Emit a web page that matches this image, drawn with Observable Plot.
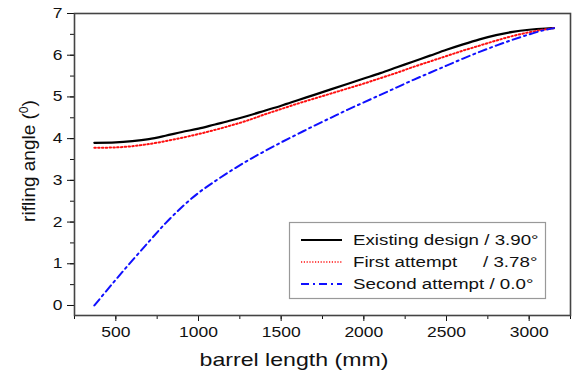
<!DOCTYPE html>
<html>
<head>
<meta charset="utf-8">
<script src="https://cdn.jsdelivr.net/npm/d3@7"></script>
<script src="https://cdn.jsdelivr.net/npm/@observablehq/plot@0.6"></script>
<style>
  body { margin: 0; background: #fff; }
</style>
</head>
<body>
<script>
// Barrel position along the bore (mm)
const barrelLength = [370, 500, 600, 700, 800, 900, 1000, 1100, 1200, 1300, 1400, 1500,
  1600, 1700, 1800, 1900, 2000, 2100, 2200, 2300, 2400, 2500, 2600, 2700, 2800, 2900,
  3000, 3100, 3150];

// Rifling angle (degrees) for each design
const existingDesign = [3.90, 3.91, 3.94, 3.99, 4.07, 4.16, 4.24, 4.34, 4.44, 4.55, 4.67, 4.79,
  4.92, 5.05, 5.18, 5.31, 5.44, 5.57, 5.71, 5.85, 5.99, 6.13, 6.26, 6.38, 6.48, 6.56,
  6.61, 6.64, 6.65];
const firstAttempt = [3.78, 3.79, 3.82, 3.87, 3.94, 4.02, 4.11, 4.21, 4.32, 4.44, 4.58, 4.71,
  4.84, 4.96, 5.08, 5.20, 5.32, 5.45, 5.58, 5.72, 5.85, 5.98, 6.11, 6.23, 6.35, 6.46,
  6.55, 6.62, 6.65];
const secondAttempt = [0.0, 0.62, 1.08, 1.53, 1.97, 2.36, 2.70, 2.98, 3.24, 3.48, 3.70, 3.91,
  4.11, 4.31, 4.50, 4.69, 4.87, 5.05, 5.23, 5.41, 5.58, 5.75, 5.92, 6.08, 6.23, 6.37,
  6.50, 6.61, 6.65];

const seriesNames = ["Existing design", "First attempt", "Second attempt"];
const seriesDecimals = [2, 2, 1];

// Axis ticks
const xMajorTicks = [500, 1000, 1500, 2000, 2500, 3000];
const xMinorTicks = [250, 500, 750, 1000, 1250, 1500, 1750, 2000, 2250, 2500, 2750, 3000, 3250];
const yMajorTicks = [0, 1, 2, 3, 4, 5, 6, 7];
const yMinorTicks = [0, 0.5, 1, 1.5, 2, 2.5, 3, 3.5, 4, 4.5, 5, 5.5, 6, 6.5, 7];

const seriesValues = [existingDesign, firstAttempt, secondAttempt];
const rows = seriesValues.map(values =>
  barrelLength.map((length, i) => ({length, angle: values[i]})));

const font = "Liberation Sans, Arial, Helvetica, sans-serif";
const styles = [
  {stroke: "#000000", strokeWidth: 2.2},
  {stroke: "#ff1010", strokeWidth: 2, strokeDasharray: "1.5,2.3"},
  {stroke: "#1010ff", strokeWidth: 2, strokeDasharray: "8,4,2,4"}
];

const chart = Plot.plot({
  width: 577,
  height: 372,
  marginLeft: 74,
  marginRight: 7,
  marginTop: 13,
  marginBottom: 57,
  style: {fontFamily: font, fontSize: "14px", color: "#111", background: "#fff"},
  x: {domain: [250, 3250]},
  y: {domain: [-0.24, 7]},
  marks: [
    ...rows.map((data, k) => Plot.line(data, {
      x: "length", y: "angle", curve: "monotone-x", ...styles[k]
    })),
    Plot.axisX({ticks: xMinorTicks, tickSize: 4, tickFormat: () => "", label: null}),
    Plot.axisX({ticks: xMajorTicks, tickSize: 6, tickPadding: 6, tickFormat: d3.format("d"), label: null}),
    Plot.axisY({ticks: yMinorTicks, tickSize: 4, tickFormat: () => "", label: null}),
    Plot.axisY({ticks: yMajorTicks, tickSize: 7, tickPadding: 5, tickFormat: d3.format("d"), label: null}),
    Plot.frame({stroke: "#444", strokeWidth: 1.6})
  ]
});

// Widen horizontal text about its anchor point
const stretch = 1.25;
function widen(el) {
  const t = el.getAttribute("transform") || "";
  const x = +el.getAttribute("x") || 0, y = +el.getAttribute("y") || 0;
  el.setAttribute("transform", `${t} translate(${x},${y}) scale(${stretch},1) translate(${-x},${-y})`);
}
chart.querySelectorAll("text").forEach(widen);

const svg = d3.select(chart);

// Axis titles
svg.append("text")
  .attr("x", 294).attr("y", 366)
  .attr("text-anchor", "middle")
  .attr("font-family", font).attr("font-size", 18.5).attr("fill", "#111")
  .text("barrel length (mm)")
  .each(function() { widen(this); });

const yTitle = svg.append("text")
  .attr("transform", "translate(35,161) rotate(-90)")
  .attr("text-anchor", "middle")
  .attr("font-family", font).attr("font-size", 19).attr("fill", "#111");
yTitle.append("tspan").text("rifling angle (");
yTitle.append("tspan").attr("font-size", 12).attr("dy", -7).text("0");
yTitle.append("tspan").attr("dy", 7).text(")");

// Legend box
const legend = svg.append("g")
  .attr("font-family", font).attr("font-size", 15).attr("fill", "#111")
  .attr("text-anchor", "start");
legend.append("rect")
  .attr("x", 289.5).attr("y", 222.5).attr("width", 256).attr("height", 76)
  .attr("fill", "#fff").attr("stroke", "#999").attr("stroke-width", 1.2);
const rowY = [240, 262, 284];
seriesNames.forEach((name, k) => {
  const s = styles[k];
  legend.append("line")
    .attr("x1", 301).attr("x2", 342).attr("y1", rowY[k]).attr("y2", rowY[k])
    .attr("stroke", s.stroke).attr("stroke-width", k === 1 ? 1.6 : s.strokeWidth)
    .attr("stroke-dasharray", k === 1 ? "1.2,1.6" : (s.strokeDasharray || null));
  const angle = `/ ${seriesValues[k][0].toFixed(seriesDecimals[k])}°`;
  if (k === 1) {
    legend.append("text").attr("x", 353).attr("y", rowY[k] + 5.5).text(name)
      .each(function() { widen(this); });
    legend.append("text").attr("x", 483).attr("y", rowY[k] + 5.5).text(angle)
      .each(function() { widen(this); });
  } else {
    legend.append("text").attr("x", 353).attr("y", rowY[k] + 5.5).text(`${name} ${angle}`)
      .each(function() { widen(this); });
  }
});

document.body.appendChild(chart);
</script>
</body>
</html>
